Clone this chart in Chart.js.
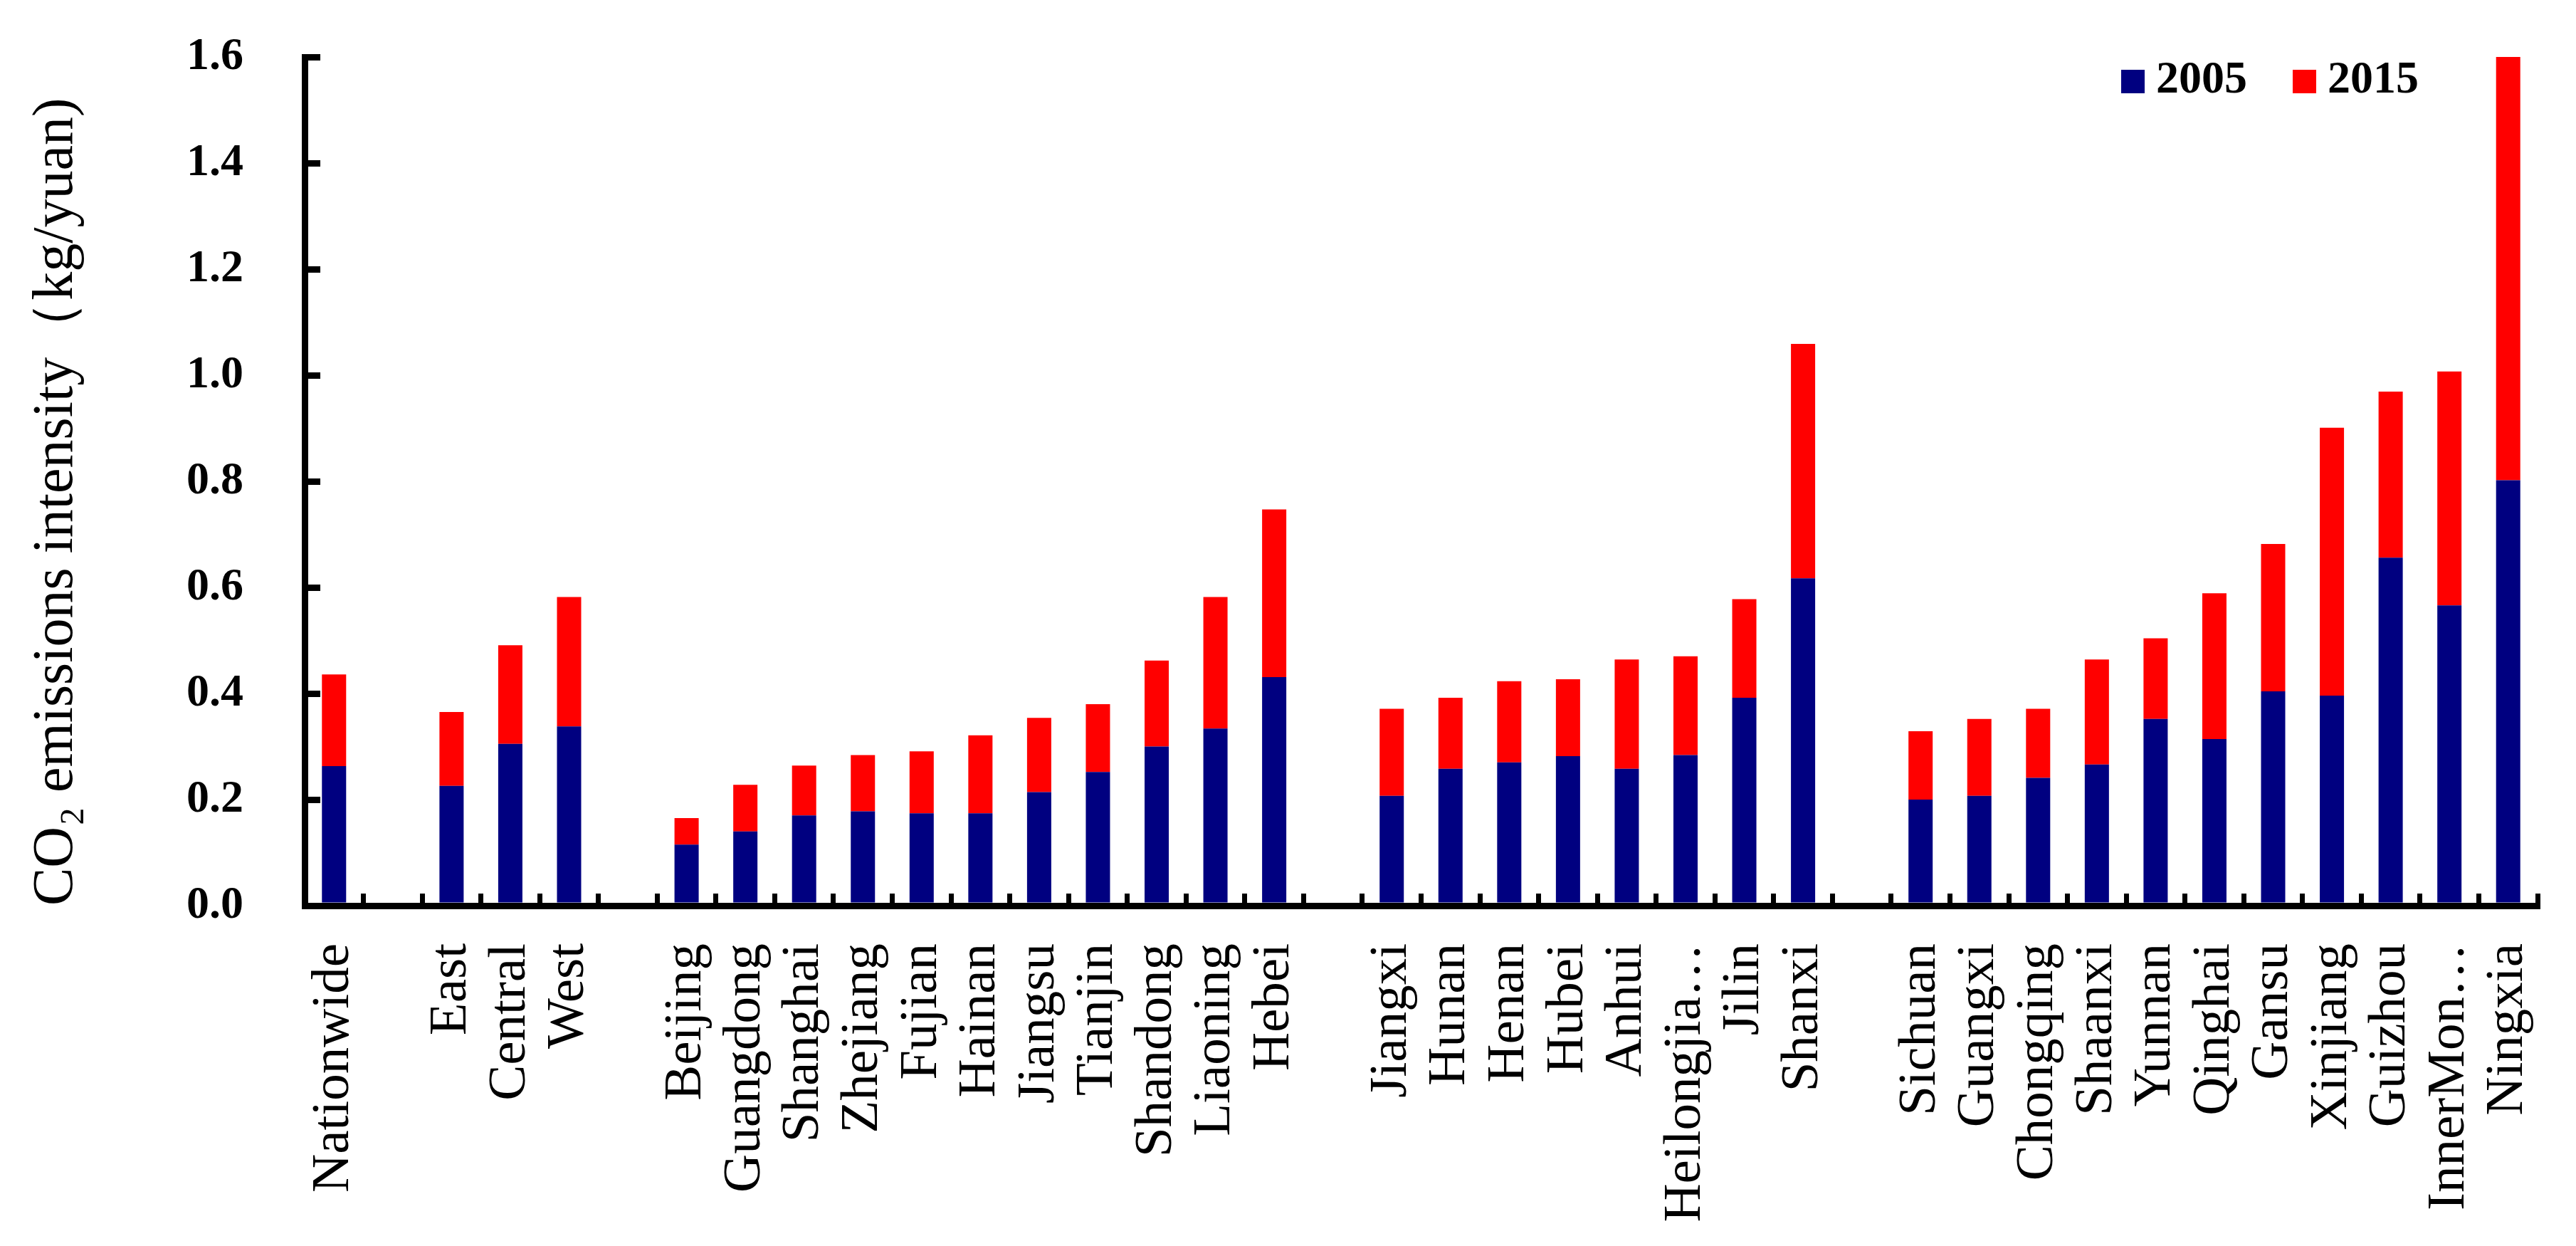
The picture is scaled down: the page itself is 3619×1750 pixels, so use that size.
<!DOCTYPE html>
<html>
<head>
<meta charset="utf-8">
<script src="https://cdn.jsdelivr.net/npm/chart.js@4.4.1/dist/chart.umd.min.js"></script>
<style>
  html, body { margin: 0; padding: 0; background: #ffffff; }
  #wrap { width: 3619px; height: 1750px; }
</style>
</head>
<body>
<div id="wrap"><canvas id="c" width="3619" height="1750"></canvas></div>
<script>
// Categories ('' = empty gap slot between groups)
const categories = [
  'Nationwide', '',
  'East', 'Central', 'West', '',
  'Beijing', 'Guangdong', 'Shanghai', 'Zhejiang', 'Fujian', 'Hainan', 'Jiangsu', 'Tianjin', 'Shandong', 'Liaoning', 'Hebei', '',
  'Jiangxi', 'Hunan', 'Henan', 'Hubei', 'Anhui', 'Heilongjia…', 'Jilin', 'Shanxi', '',
  'Sichuan', 'Guangxi', 'Chongqing', 'Shaanxi', 'Yunnan', 'Qinghai', 'Gansu', 'Xinjiang', 'Guizhou', 'InnerMon…', 'Ningxia'
];

// 2005 segment (lower, navy)
const values2005 = [
  0.263, null,
  0.226, 0.305, 0.338, null,
  0.115, 0.140, 0.170, 0.178, 0.174, 0.174, 0.214, 0.252, 0.300, 0.334, 0.431, null,
  0.207, 0.258, 0.270, 0.282, 0.258, 0.284, 0.392, 0.617, null,
  0.200, 0.207, 0.241, 0.266, 0.352, 0.314, 0.404, 0.396, 0.656, 0.566, 0.802
];

// 2015 segment (stacked on top, red)
const values2015 = [
  0.173, null,
  0.139, 0.186, 0.244, null,
  0.050, 0.088, 0.094, 0.106, 0.117, 0.147, 0.140, 0.128, 0.162, 0.248, 0.316, null,
  0.164, 0.134, 0.153, 0.145, 0.206, 0.186, 0.186, 0.442, null,
  0.129, 0.145, 0.130, 0.198, 0.152, 0.275, 0.278, 0.505, 0.313, 0.441, 0.800
];

const seriesNames = ['2005', '2015'];
const seriesColors = ['#000080', '#FF0000'];
const yTickLabels = ['0.0', '0.2', '0.4', '0.6', '0.8', '1.0', '1.2', '1.4', '1.6'];
const yTitle = 'CO\u2082 emissions intensity\uFF08kg/yuan)';

const insideLegend = {
  id: 'insideLegend',
  afterDraw(chart, args, opts) {
    const { ctx, chartArea } = chart;
    ctx.save();
    ctx.font = opts.font;
    const items = chart.data.datasets.map(d => ({ text: d.label, color: d.backgroundColor }));
    const widths = items.map(it => ctx.measureText(it.text).width);
    const total = items.reduce((s, it, i) => s + opts.box + opts.gap + widths[i], 0) + opts.spacing * (items.length - 1);
    let x = chartArea.right - opts.right - total;
    const y = chartArea.top + opts.top;
    items.forEach((it, i) => {
      ctx.fillStyle = it.color;
      ctx.fillRect(x, y, opts.box, opts.box);
      x += opts.box + opts.gap;
      ctx.fillStyle = '#000000';
      ctx.textBaseline = 'middle';
      ctx.textAlign = 'left';
      ctx.fillText(it.text, x, y + opts.box / 2 - 1);
      x += widths[i] + opts.spacing;
    });
    ctx.restore();
  }
};

new Chart(document.getElementById('c'), {
  type: 'bar',
  data: {
    labels: categories,
    datasets: [
      { label: seriesNames[0], data: values2005, backgroundColor: seriesColors[0], borderWidth: 0, categoryPercentage: 1.0, barPercentage: 0.412 },
      { label: seriesNames[1], data: values2015, backgroundColor: seriesColors[1], borderWidth: 0, categoryPercentage: 1.0, barPercentage: 0.412 }
    ]
  },
  plugins: [insideLegend],
  options: {
    responsive: false,
    devicePixelRatio: 1,
    animation: false,
    layout: { padding: { top: 80, right: 54, bottom: 0, left: 0 } },
    plugins: {
      legend: { display: false },
      tooltip: { enabled: false },
      insideLegend: { font: 'bold 64px "Liberation Serif"', box: 33, gap: 16, spacing: 64, right: 167, top: 18 }
    },
    scales: {
      x: {
        stacked: true,
        afterFit: (s) => { s.height = 478; s.paddingLeft = 0; s.paddingRight = 0; },
        border: { display: true, color: '#000000', width: 9 },
        grid: { display: true, drawOnChartArea: false, drawTicks: true, tickLength: -17, lineWidth: 7, color: '#000000', offset: true },
        ticks: {
          autoSkip: false, minRotation: 90, maxRotation: 90, padding: 70,
          color: '#000000', font: { family: '"Liberation Serif"', size: 75 }
        }
      },
      y: {
        stacked: true,
        min: 0, max: 1.6,
        afterFit: (s) => { s.width = 428; s.paddingTop = 0; s.paddingBottom = 0; },
        border: { display: true, color: '#000000', width: 9 },
        grid: { display: true, drawOnChartArea: false, drawTicks: true, tickLength: -22, lineWidth: 9, color: '#000000' },
        ticks: {
          stepSize: 0.2, padding: 108, color: '#000000',
          font: { family: '"Liberation Serif"', size: 64, weight: 'bold' },
          callback: (v, i) => yTickLabels[i]
        },
        title: {
          display: true, text: yTitle, align: 'start', color: '#000000',
          font: { family: '"Liberation Serif"', size: 80 },
          padding: { top: 32, bottom: 0 }
        }
      }
    }
  }
});
</script>
</body>
</html>
